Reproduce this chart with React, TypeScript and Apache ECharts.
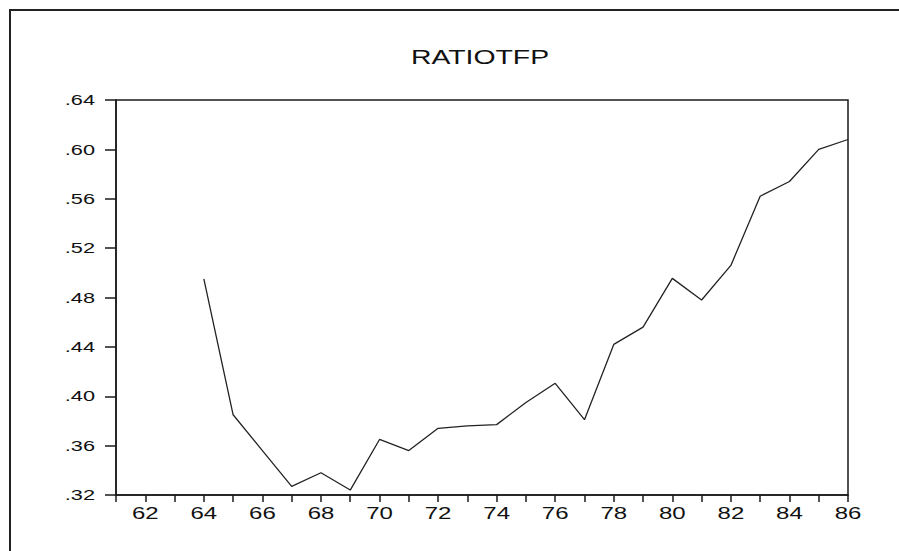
import React, { useEffect, useRef } from "react";
import * as echarts from "echarts";

const years = [64, 65, 66, 67, 68, 69, 70, 71, 72, 73, 74, 75, 76, 77, 78, 79, 80, 81, 82, 83, 84, 85, 86];
const ratioTFP = [0.495, 0.385, 0.356, 0.327, 0.338, 0.324, 0.365, 0.356, 0.374, 0.376, 0.377, 0.395, 0.4105, 0.381, 0.442, 0.456, 0.4955, 0.478, 0.506, 0.562, 0.574, 0.600, 0.608];
const yTicks = [0.32, 0.36, 0.40, 0.44, 0.48, 0.52, 0.56, 0.60, 0.64];
const xLabelYears = [62, 64, 66, 68, 70, 72, 74, 76, 78, 80, 82, 84, 86];
const titleText = "RATIOTFP";
const xMin = 61;
const xMax = 86;
const yMin = 0.32;
const yMax = 0.64;

const fmtY = (v: number) => v.toFixed(2).replace(/^0/, "");

export default function App() {
  const ref = useRef<HTMLDivElement>(null);
  useEffect(() => {
    if (!ref.current) return;
    const chart = echarts.init(ref.current, null, { renderer: "svg" });
    const lineColor = "#1a1a1a";
    chart.setOption({
      animation: false,
      backgroundColor: "#ffffff",
      grid: {
        left: 116,
        top: 100,
        right: 51,
        bottom: 56,
        show: true,
        borderColor: lineColor,
        borderWidth: 1.5,
        backgroundColor: "transparent",
      },
      xAxis: {
        type: "value",
        min: xMin,
        max: xMax,
        interval: 1,
        axisLine: { show: true, lineStyle: { color: lineColor, width: 1.5 } },
        axisTick: { show: true, inside: false, length: 7, lineStyle: { color: lineColor, width: 1.5 } },
        axisLabel: { show: false },
        splitLine: { show: false },
      },
      yAxis: {
        type: "value",
        min: yMin,
        max: yMax,
        interval: 0.04,
        axisLine: { show: true, lineStyle: { color: lineColor, width: 1.5 } },
        axisTick: { show: true, inside: false, length: 11, lineStyle: { color: lineColor, width: 1.5 } },
        axisLabel: { show: false },
        splitLine: { show: false },
      },
      series: [
        {
          type: "line",
          data: years.map((y, i) => [y, ratioTFP[i]]),
          showSymbol: false,
          symbol: "none",
          lineStyle: { color: "#222222", width: 1.3 },
        },
      ],
    });

    const font = "15px 'Liberation Sans', Arial, sans-serif";
    const graphics: any[] = [];
    yTicks.forEach((v) => {
      const p = chart.convertToPixel({ gridIndex: 0 }, [xMin, v]) as number[];
      graphics.push({
        type: "text",
        x: p[0] - 21,
        y: p[1],
        scaleX: 1.45,
        style: { text: fmtY(v), align: "right", verticalAlign: "middle", font, fill: "#111" },
      });
    });
    xLabelYears.forEach((yr) => {
      const p = chart.convertToPixel({ gridIndex: 0 }, [yr, yMin]) as number[];
      graphics.push({
        type: "text",
        x: p[0],
        y: p[1] + 19,
        scaleX: 1.5,
        style: { text: String(yr), align: "center", verticalAlign: "middle", font: "16px 'Liberation Sans', Arial, sans-serif", fill: "#111" },
      });
    });
    graphics.push({
      type: "text",
      x: 480,
      y: 57,
      scaleX: 1.42,
      style: { text: titleText, align: "center", verticalAlign: "middle", font: "20px 'Liberation Sans', Arial, sans-serif", fill: "#111" },
    });
    graphics.push({
      type: "rect",
      shape: { x: 10, y: 10, width: 1200, height: 1200 },
      style: { fill: "transparent", stroke: "#222", lineWidth: 2 },
      silent: true,
    });
    chart.setOption({ graphic: graphics });
    return () => chart.dispose();
  }, []);
  return (
    <div
      ref={ref}
      style={{ position: "absolute", left: 0, top: 0, width: 899, height: 551, background: "#fff" }}
    />
  );
}
